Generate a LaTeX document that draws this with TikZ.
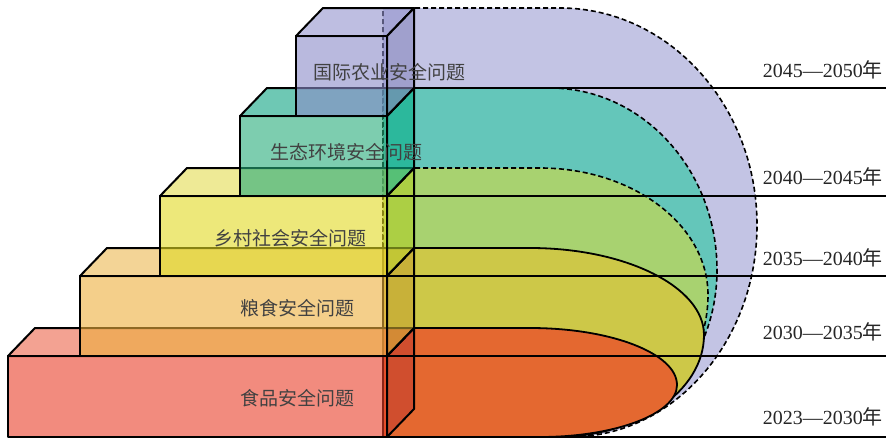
\documentclass[tikz,border=0pt]{standalone}
\usepackage{fontspec}
\setmainfont{Liberation Serif}
\newfontfamily\cjk{Noto Sans CJK SC}
\definecolor{cpurple}{RGB}{195,196,228}
\definecolor{cteal}{RGB}{100,198,186}
\definecolor{cgreen}{RGB}{168,210,112}
\definecolor{cyellow}{RGB}{205,200,72}
\definecolor{corange}{RGB}{228,104,48}
\definecolor{fA}{RGB}{233,62,40}
\definecolor{tA}{RGB}{235,100,73}
\definecolor{sA}{RGB}{195,61,46}
\definecolor{fB}{RGB}{237,175,60}
\definecolor{tB}{RGB}{235,183,80}
\definecolor{sB}{RGB}{197,163,47}
\definecolor{fC}{RGB}{225,217,33}
\definecolor{tC}{RGB}{227,220,80}
\definecolor{sC}{RGB}{175,205,39}
\definecolor{fD}{RGB}{38,172,122}
\definecolor{tD}{RGB}{13,163,130}
\definecolor{sD}{RGB}{8,176,136}
\definecolor{fE}{RGB}{138,138,200}
\definecolor{tE}{RGB}{147,147,205}
\definecolor{sE}{RGB}{137,137,190}
\definecolor{txtgray}{RGB}{65,65,65}
\tikzset{
  boxface/.style={fill opacity=.6, draw=black, line width=2pt, line join=round},
  dashzone/.style={draw=black, line width=1.6pt, dash pattern=on 5pt off 3pt},
  solidzone/.style={draw=black, line width=1.8pt},
  hline/.style={draw=black, line width=1.8pt},
  lbl/.style={font=\cjk\fontsize{19}{19}\selectfont, text=txtgray, inner sep=0pt},
  yrlbl/.style={font=\fontsize{20}{20}\selectfont, text=black!85, inner sep=0pt, anchor=east}
}
\newcommand\mybox[6]{%
  \filldraw[fill=#5, boxface] (#1,#2) -- (#1+27,#2-28) -- (414,#2-28) -- (387,#2) -- cycle;
  \filldraw[fill=#4, boxface] (#1,#2) rectangle (387,#3);
  \filldraw[fill=#6, boxface] (387,#2) -- (414,#2-28) -- (414,#3-28) -- (387,#3) -- cycle;
}
\begin{document}
\begin{tikzpicture}[x=1pt,y=-1pt]
\useasboundingbox (0,0) rectangle (886,439);
% time zones
\filldraw[fill=cpurple, dashzone] (383,8) -- (560,8) .. controls (668.7,8) and (757,105.2) .. (757,225)
  .. controls (757,342) and (673.2,437) .. (570,437) -- (383,437) -- cycle;
\filldraw[fill=cteal, dashzone] (383,88) -- (550,88) .. controls (642.2,88) and (717,169.5) .. (717,270)
  .. controls (717,362.2) and (648.9,437) .. (565,437) -- (383,437) -- cycle;
\filldraw[fill=cgreen, dashzone] (383,168) -- (540,168) .. controls (632.7,168) and (708,224.9) .. (708,295)
  .. controls (708,373.4) and (641.7,437) .. (560,437) -- (383,437) -- cycle;
\filldraw[fill=cyellow, solidzone] (383,248) -- (530,248) .. controls (626,248) and (704,287) .. (704,335)
  .. controls (704,391.3) and (637.2,437) .. (555,437) -- (383,437) -- cycle;
\filldraw[fill=corange, solidzone] (383,328) -- (530,328) .. controls (611.1,328) and (677,353.5) .. (677,385)
  .. controls (677,413.7) and (615.6,437) .. (540,437) -- (383,437) -- cycle;
% boxes
\mybox{8}{356}{437}{fA}{tA}{sA}
\mybox{80}{276}{356}{fB}{tB}{sB}
\mybox{160}{196}{276}{fC}{tC}{sC}
\mybox{240}{116}{196}{fD}{tD}{sD}
\mybox{296}{36}{116}{fE}{tE}{sE}
% horizontal rules
\draw[hline] (414,88) -- (886,88);
\draw[hline] (387,196) -- (886,196);
\draw[hline] (387,276) -- (886,276);
\draw[hline] (387,356) -- (886,356);
\draw[hline] (8,437) -- (886,437);
% labels
\node[lbl] (l5) at (389,72) {国际农业安全问题};
\node[lbl] (l4) at (346,152) {生态环境安全问题};
\node[lbl] (l3) at (290,238) {乡村社会安全问题};
\node[lbl] (l2) at (297,308) {粮食安全问题};
\node[lbl] (l1) at (297,398) {食品安全问题};
\node[yrlbl] (y5) at (883,70) {2045—2050{\cjk 年}};
\node[yrlbl] (y4) at (883,177) {2040—2045{\cjk 年}};
\node[yrlbl] (y3) at (883,258) {2035—2040{\cjk 年}};
\node[yrlbl] (y2) at (883,332) {2030—2035{\cjk 年}};
\node[yrlbl] (y1) at (883,417) {2023—2030{\cjk 年}};
\end{tikzpicture}
\end{document}
